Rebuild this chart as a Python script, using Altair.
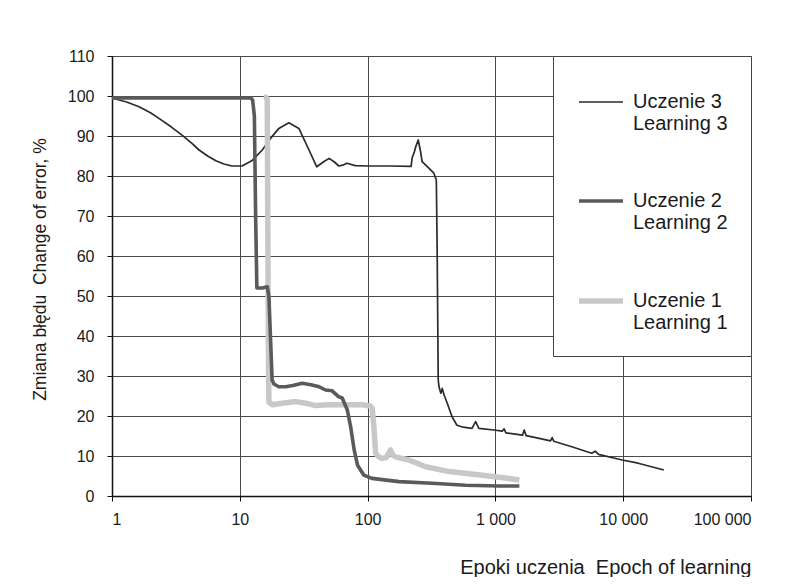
import altair as alt
import pandas as pd

# Uczenie 3 / Learning 3 (thin dark line)
x3 = [1, 1.3, 1.63, 2.0, 2.33, 2.9, 3.53, 4.2, 4.8, 5.6, 6.5, 7.5, 8.7, 10.4, 12.4, 15, 17.4, 20.2,
      24.2, 29, 34.8, 40, 45, 50, 55, 59.5, 65, 69, 80, 100, 150, 219, 223, 232, 238, 249, 260, 267,
      303, 330, 345, 350, 357, 362, 374, 384, 396, 420, 458, 500, 560, 656, 700, 742, 974, 1130,
      1170, 1208, 1630, 1680, 1740, 2200, 2700, 2780, 2860, 3960, 5670, 6040, 6400, 9830, 13100, 20800]
y3 = [99.5, 98.5, 97.3, 95.8, 94.4, 92.3, 90.2, 88.2, 86.5, 85.0, 83.8, 83.0, 82.5, 82.5, 83.8, 86.5,
      89.4, 91.9, 93.3, 91.9, 86.5, 82.3, 83.5, 84.4, 83.5, 82.5, 82.8, 83.2, 82.6, 82.5, 82.5, 82.4,
      84.5, 86.0, 87.3, 89.0, 86.0, 83.6, 81.9, 80.7, 79.0, 62.3, 29.0, 27.3, 25.7, 26.9, 25.3, 23.2,
      19.8, 17.7, 17.2, 16.9, 18.6, 16.9, 16.5, 16.2, 16.8, 15.8, 15.2, 16.5, 15.1, 14.4, 13.8, 14.6,
      13.7, 12.3, 10.7, 11.2, 10.4, 9.0, 8.2, 6.5]

# Uczenie 2 / Learning 2 (thick dark grey line)
x2 = [1, 12.2, 12.6, 13.0, 13.3, 13.6, 15, 16.4, 16.9, 17.9, 18.5, 20.2, 22.9, 26, 30.8, 36, 41.8,
      46.9, 52.8, 59.5, 63.3, 69.4, 73.7, 78.5, 83.4, 93.6, 108, 176, 320, 585, 1070, 1540]
y2 = [99.5, 99.5, 99.0, 95.0, 70.0, 52.0, 52.0, 52.3, 49.8, 29.0, 28.0, 27.3, 27.3, 27.6, 28.2, 27.8,
      27.3, 26.5, 26.3, 24.8, 24.5, 21.5, 17.3, 11.5, 7.7, 5.2, 4.4, 3.6, 3.2, 2.7, 2.5, 2.5]

# Uczenie 1 / Learning 1 (thick light grey line)
x1 = [15.4, 16.0, 16.4, 16.6, 16.8, 16.9, 18, 21.5, 27.3, 33, 39, 50, 63.3, 90.6, 105, 108.6, 112,
      115.6, 122, 130, 140, 151, 158, 165, 210, 285, 435, 790, 1200, 1540]
y1 = [99.7, 99.7, 99.0, 60.0, 30.0, 23.5, 22.8, 23.2, 23.6, 23.2, 22.6, 22.8, 22.8, 22.8, 22.5, 21.9,
      17.3, 10.7, 9.8, 9.4, 9.6, 11.5, 10.2, 9.8, 9.0, 7.3, 6.1, 5.2, 4.5, 4.0]

names = ["Uczenie 3|Learning 3", "Uczenie 2|Learning 2", "Uczenie 1|Learning 1"]
colors = ["#2b2b2b", "#5a5a5a", "#c8c8c8"]
widths = [1.7, 5.5, 5.0]
x_ticks = [1, 10, 100, 1000, 10000, 100000]
y_ticks = list(range(0, 111, 10))

rows = []
for name, xs, ys in zip(names, [x3, x2, x1], [y3, y2, y1]):
    for i, (a, b) in enumerate(zip(xs, ys)):
        rows.append({"series": name, "epoch": a, "err": b, "i": i})
df = pd.DataFrame(rows)

FONT = "Liberation Sans"

legend = alt.Legend(
    title=None, orient="top-right", offset=0, padding=23,
    fillColor="white", strokeColor="#444444",
    labelFont=FONT, labelFontSize=20, labelColor="#1a1a1a",
    labelExpr="split(datum.label, '|')", labelOffset=7, labelLimit=300,
    symbolType="stroke", symbolSize=1936, rowPadding=43,
)

base = alt.Chart(df).mark_line(strokeJoin="round").encode(
    x=alt.X("epoch:Q",
            scale=alt.Scale(type="log", domain=[1, 100000]),
            axis=alt.Axis(values=x_ticks, title="Epoki uczenia\u00a0 Epoch of learning",
                          labelExpr="replace(format(datum.value, ','), ',', ' ')",
                          titleAnchor="end", labelPadding=10, titlePadding=30,
                          labelFontSize=16, titleFontSize=20)),
    y=alt.Y("err:Q",
            scale=alt.Scale(domain=[0, 110]),
            axis=alt.Axis(values=y_ticks, title="Zmiana błędu\u00a0 Change of error, %",
                          labelPadding=13, titlePadding=18, titleY=213,
                          labelFontSize=16, titleFontSize=17.5)),
    color=alt.Color("series:N", scale=alt.Scale(domain=names, range=colors), legend=legend),
    strokeWidth=alt.StrokeWidth("series:N", scale=alt.Scale(domain=names, range=widths), legend=legend),
    order="i:Q",
)

order_draw = [names[0], names[2], names[1]]
layers = [base.transform_filter(alt.datum.series == n) for n in order_draw]

chart = alt.layer(*layers).properties(
    width=639, height=440,
    padding={"left": 23, "top": 40, "right": 10, "bottom": 0},
    background="white",
).configure_axis(
    labelFont=FONT, titleFont=FONT, labelColor="#1a1a1a", titleColor="#1a1a1a",
    titleFontWeight="normal", grid=True, gridColor="#4a4a4a", gridWidth=1,
    domainColor="#111111", domainWidth=1.5, tickColor="#111111", tickSize=5,
).configure_view(stroke="#4a4a4a", strokeWidth=1)

chart.save("out.html", embed_options={"renderer": "svg", "actions": False})
